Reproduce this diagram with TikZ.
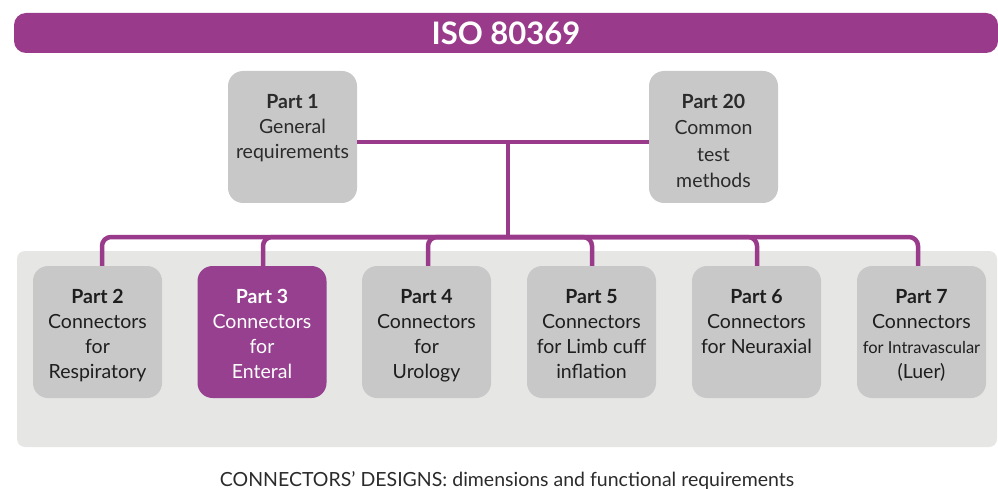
\documentclass[tikz,border=0pt]{standalone}
\usepackage{fontspec}
\setmainfont{Lato}
\definecolor{isopurple}{HTML}{9A3A8B}
\definecolor{partpurple}{HTML}{96408F}
\definecolor{boxgray}{HTML}{C8C8C8}
\definecolor{panelgray}{HTML}{E6E6E5}
\definecolor{txtdark}{HTML}{1E1E1E}
\definecolor{captxt}{HTML}{2B2B2B}
\tikzset{
  partbox/.style={rectangle, rounded corners=15pt, fill=boxgray, minimum width=129pt, minimum height=132pt, inner sep=0pt},
  hlbox/.style={partbox, fill=partpurple},
  parttext/.style={anchor=north, align=center, inner sep=0pt, text=txtdark, font=\fontsize{19.5}{25}\selectfont},
  conn/.style={draw=isopurple, line width=4.5pt},
  bus/.style={conn, rounded corners=9pt},
}
\begin{document}
\begin{tikzpicture}[x=1pt, y=-1pt]
\useasboundingbox (0,0) rectangle (998,489);
% banner
\node[rectangle, rounded corners=12pt, fill=isopurple, minimum width=984pt, minimum height=40pt, inner sep=0pt,
      text=white, font=\fontsize{31}{31}\selectfont\bfseries] (title) at (506,33) {ISO 80369};
% panel
\node[rectangle, rounded corners=8pt, fill=panelgray, minimum width=980pt, minimum height=196pt, inner sep=0pt] (panel) at (507,349) {};
% top boxes
\node[partbox] (p1) at (292.5,137) {};
\node[partbox] (p20) at (713.5,137) {};
\node[parttext, text=captxt] (p1t) at ([yshift=-23pt]p1.north) {\textbf{Part 1}\\General\\requirements};
\node[parttext, text=captxt, font=\fontsize{19.5}{26.5}\selectfont] (p20t) at ([yshift=-23pt]p20.north) {\textbf{Part 20}\\Common\\test\\methods};
% bottom boxes
\node[partbox] (p2) at (97.5,332) {};
\node[hlbox] (p3) at (262,332) {};
\node[partbox] (p4) at (426.5,332) {};
\node[partbox] (p5) at (591.5,332) {};
\node[partbox] (p6) at (756.5,332) {};
\node[partbox] (p7) at (921.5,332) {};
\node[parttext] (p2t) at ([yshift=-23pt]p2.north) {\textbf{Part 2}\\Connectors\\for\\Respiratory};
\node[parttext, text=white] (p3t) at ([yshift=-23pt]p3.north) {\textbf{Part 3}\\Connectors\\for\\Enteral};
\node[parttext] (p4t) at ([yshift=-23pt]p4.north) {\textbf{Part 4}\\Connectors\\for\\Urology};
\node[parttext] (p5t) at ([yshift=-23pt]p5.north) {\textbf{Part 5}\\Connectors\\for Limb cuff\\inflation};
\node[parttext] (p6t) at ([yshift=-23pt]p6.north) {\textbf{Part 6}\\Connectors\\for Neuraxial};
\node[parttext] (p7t) at ([yshift=-23pt]p7.north) {\textbf{Part 7}\\Connectors\\{\fontsize{16.5}{25}\selectfont for Intravascular}\\(Luer)};
% connectors
\coordinate (j1) at (508,142);
\coordinate (j2) at (508,237);
\draw[conn] (p1.east |- j1) -- (p20.west |- j1);
\draw[conn] (j1) -- (j2);
\draw[bus] (j2) -| ([xshift=4.5pt]p2.north);
\draw[bus] (j2) -| ([xshift=1pt]p3.north);
\draw[bus] (j2) -| ([xshift=1.5pt]p4.north);
\draw[bus] (j2) -| ([xshift=0.5pt]p5.north);
\draw[bus] (j2) -| ([xshift=0.5pt]p6.north);
\draw[bus] (j2) -| ([xshift=-3.5pt]p7.north);
% caption
\node[anchor=base, inner sep=0pt, text=captxt, font=\fontsize{19.5}{22}\selectfont] (cap) at (507,486) {CONNECTORS’ DESIGNS: dimensions and functional requirements};
\end{tikzpicture}
\end{document}
